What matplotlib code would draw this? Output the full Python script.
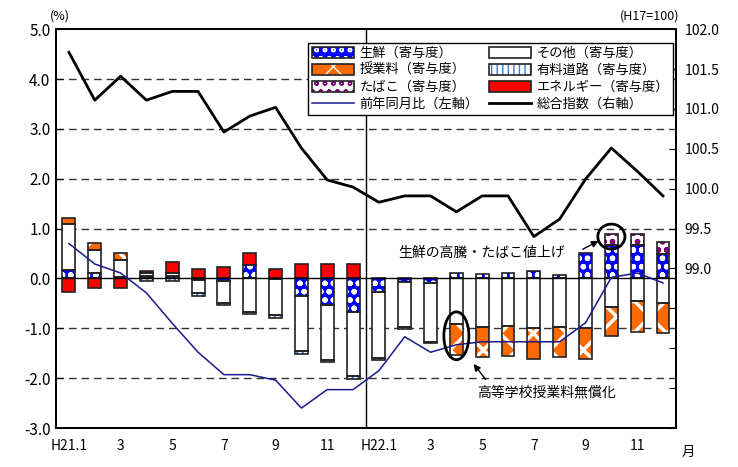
import matplotlib.pyplot as plt
import numpy as np
from matplotlib.patches import Patch, Ellipse
from matplotlib.lines import Line2D
from matplotlib.legend_handler import HandlerTuple

plt.rcParams['font.family'] = ['Noto Sans CJK JP', 'DejaVu Sans']
plt.rcParams['axes.unicode_minus'] = False

# 月 (H21.1 - H22.12)
x_labels = ["H21.1", "", "3", "", "5", "", "7", "", "9", "", "11", "",
            "H22.1", "", "3", "", "5", "", "7", "", "9", "", "11", ""]

# 寄与度 (%)
fresh = [0.17, 0.10, 0.02, 0.05, 0.05, -0.03, -0.06, 0.27, -0.02, -0.35, -0.54, -0.67,
         -0.27, -0.07, -0.10, 0.10, 0.08, 0.10, 0.15, 0.07, 0.52, 0.67, 0.67, 0.50]
other = [0.92, 0.48, 0.36, 0.05, 0.05, -0.27, -0.43, -0.67, -0.72, -1.10, -1.09, -1.29,
         -1.33, -0.91, -1.17, -0.92, -0.98, -0.96, -1.00, -0.98, -1.00, -0.57, -0.46, -0.49]
tuition = [0.12, 0.14, 0.14, 0, 0, 0, 0, 0, 0, 0, 0, 0,
           0, 0, 0, -0.62, -0.59, -0.59, -0.62, -0.59, -0.61, -0.59, -0.61, -0.60]
toll = [0, 0, 0, -0.05, -0.05, -0.06, -0.05, -0.05, -0.05, -0.06, -0.05, -0.05,
        -0.03, -0.03, -0.03, 0, 0, 0, 0, 0, 0, 0, 0, 0]
tobacco = [0, 0, 0, 0, 0, 0, 0, 0, 0, 0, 0, 0,
           0, 0, 0, 0, 0, 0, 0, 0, 0, 0.23, 0.23, 0.24]
energy = [-0.27, -0.20, -0.20, 0.05, 0.22, 0.19, 0.22, 0.24, 0.19, 0.29, 0.29, 0.29,
          0, 0, 0, 0, 0, 0, 0, 0, 0, 0, 0, 0]

# 前年同月比 (左軸, %)
yoy = [0.70, 0.29, 0.11, -0.29, -0.90, -1.48, -1.93, -1.93, -2.04, -2.60, -2.23, -2.23,
       -1.85, -1.17, -1.48, -1.33, -1.27, -1.27, -1.27, -1.27, -0.89, 0.02, 0.11, -0.09]
# 総合指数 (右軸, H17=100)
index = [101.71, 101.11, 101.41, 101.11, 101.22, 101.22, 100.71, 100.91, 101.02, 100.51, 100.11, 100.02,
         99.83, 99.91, 99.91, 99.71, 99.91, 99.91, 99.40, 99.62, 100.12, 100.51, 100.22, 99.91]

values = {"生鮮": fresh, "その他": other, "授業料": tuition,
          "有料道路": toll, "たばこ": tobacco, "エネルギー": energy}
styles = {
    "生鮮": dict(face="#0000ff", hatch="oo", hc="white", hlw=1.6),
    "その他": dict(face="white", hatch=None, hc="white", hlw=1.0),
    "授業料": dict(face="#ff6a00", hatch="x", hc="white", hlw=2.5),
    "有料道路": dict(face="white", hatch="|||", hc="#3a7fd0", hlw=1.5),
    "たばこ": dict(face="white", hatch="oo", hc="#800080", hlw=1.6),
    "エネルギー": dict(face="#ff0000", hatch=None, hc="#ff0000", hlw=1.0),
}
pos_order = ["生鮮", "有料道路", "その他", "授業料", "たばこ", "エネルギー"]
neg_order = ["エネルギー", "生鮮", "その他", "授業料", "有料道路"]

n = len(x_labels)
x = np.arange(n)
width = 0.5

fig = plt.figure(figsize=(7.38, 4.67), dpi=100)
ax = fig.add_axes([0.0759, 0.0835, 0.840, 0.854])


def draw_stack(order, sign):
    base = np.zeros(n)
    for name in order:
        v = np.array(values[name], dtype=float)
        v = np.where(v * sign > 0, v, 0.0)
        m = v != 0
        st = styles[name]
        with plt.rc_context({"hatch.linewidth": st["hlw"]}):
            ax.bar(x[m], v[m], width, bottom=base[m], color=st["face"], hatch=st["hatch"],
                   edgecolor=st["hc"], linewidth=0, zorder=2)
        ax.bar(x[m], v[m], width, bottom=base[m], fill=False, edgecolor="#222222",
               linewidth=1.2, zorder=3)
        base += v


draw_stack(pos_order, 1)
draw_stack(neg_order, -1)

for g in [-2, -1, 1, 2, 3, 4]:
    ax.axhline(g, color="#333333", lw=1, ls=(0, (5.5, 3.5)), zorder=1)
ax.axhline(0, color="black", lw=1, zorder=4)
ax.axvline(11.5, color="black", lw=1, zorder=1)

ax.plot(x, yoy, color="#1a1a8c", lw=1.1, zorder=5)

ax.set_xlim(-0.5, n - 0.5)
ax.set_ylim(-3, 5)
ax.set_yticks(np.arange(-3, 6, 1))
ax.set_yticklabels([f"{v:.1f}" for v in np.arange(-3, 6, 1)], fontsize=11)
ax.set_xticks(x)
ax.set_xticklabels(x_labels, fontsize=10)
ax.tick_params(axis="x", length=0, pad=8)
ax.tick_params(axis="y", direction="in", length=5, pad=4)

ax2 = ax.twinx()
ax2.plot(x, index, color="black", lw=2.0, zorder=5)
ax2.set_ylim(97, 102)
rt = np.arange(97, 102.01, 0.5)
ax2.set_yticks(rt)
ax2.set_yticklabels([f"{v:.1f}" if v >= 99 else "" for v in rt], fontsize=10)
ax2.tick_params(axis="y", direction="in", length=5, pad=6)

for a in (ax, ax2):
    for s in a.spines.values():
        s.set_linewidth(1.3)

fig.text(0.068, 0.965, "(%)", fontsize=9, ha="left", va="center")
fig.text(0.92, 0.965, "(H17=100)", fontsize=9, ha="right", va="center")
fig.text(0.932, 0.032, "月", fontsize=9.5, ha="center", va="center")

# 注記
ax.add_patch(Ellipse((21, 0.84), 1.05, 0.50, fill=False, lw=2, ec="black", zorder=6))
ax.add_patch(Ellipse((15, -1.15), 0.97, 0.96, fill=False, lw=2, ec="black", zorder=6))
ax.annotate("", xy=(20.6, 0.78), xytext=(19.8, 0.56),
            arrowprops=dict(arrowstyle="-|>", color="black", lw=1, mutation_scale=10), zorder=6)
ax.text(15.97, 0.52, "生鮮の高騰・たばこ値上げ", fontsize=10, ha="center", va="center", zorder=6)
ax.annotate("", xy=(15.6, -1.67), xytext=(16.2, -2.07),
            arrowprops=dict(arrowstyle="-|>", color="black", lw=1, mutation_scale=10), zorder=6)
ax.text(18.5, -2.29, "高等学校授業料無償化", fontsize=10, ha="center", va="center", zorder=6)

# 凡例
def patch_handle(name):
    st = styles[name]
    with plt.rc_context({"hatch.linewidth": st["hlw"]}):
        p = Patch(facecolor=st["face"], hatch=st["hatch"], edgecolor=st["hc"], linewidth=0)
    return (p, Patch(fill=False, edgecolor="#222222", linewidth=1.2))


handles = [patch_handle("生鮮"), patch_handle("授業料"), patch_handle("たばこ"),
           Line2D([], [], color="#1a1a8c", lw=1.1),
           patch_handle("その他"), patch_handle("有料道路"), patch_handle("エネルギー"),
           Line2D([], [], color="black", lw=2.0)]
labels = ["生鮮（寄与度）", "授業料（寄与度）", "たばこ（寄与度）", "前年同月比（左軸）",
          "その他（寄与度）", "有料道路（寄与度）", "エネルギー（寄与度）", "総合指数（右軸）"]
leg = ax2.legend(handles, labels, ncol=2, loc="upper left", bbox_to_anchor=(0.406, 0.966),
                 borderaxespad=0, fontsize=9.5, handlelength=3.2, handleheight=0.9,
                 handletextpad=0.4, columnspacing=0.8, labelspacing=0.3,
                 borderpad=0.3, fancybox=False, framealpha=1, edgecolor="black",
                 handler_map={tuple: HandlerTuple(ndivide=1, pad=0)})
leg.get_frame().set_linewidth(1)

fig.savefig("out.png", dpi=100)
